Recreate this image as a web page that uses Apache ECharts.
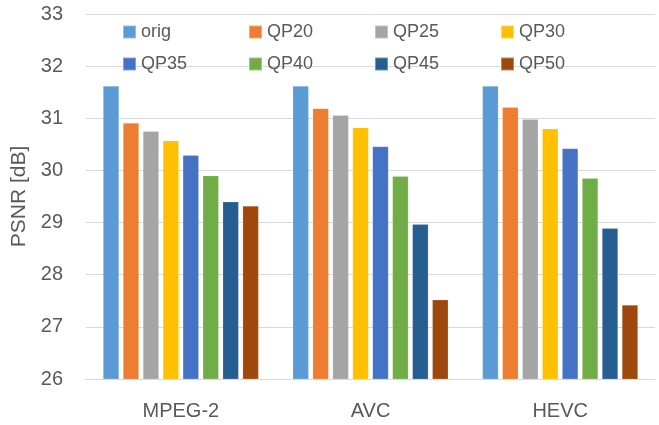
<!DOCTYPE html>
<html>
<head>
<meta charset="utf-8">
<script src="https://cdn.jsdelivr.net/npm/echarts@6/dist/echarts.min.js"></script>
<style>
  html, body { margin: 0; padding: 0; background: #fff; }
  #chart { width: 659px; height: 425px; }
</style>
</head>
<body>
<div id="chart"></div>
<script>
// Codecs on the x axis
const codecs = ['MPEG-2', 'AVC', 'HEVC'];

// PSNR [dB] per quantisation setting, one value per codec
const seriesNames = ['orig', 'QP20', 'QP25', 'QP30', 'QP35', 'QP40', 'QP45', 'QP50'];
const orig = [31.62, 31.62, 31.62];
const qp20 = [30.91, 31.19, 31.21];
const qp25 = [30.75, 31.06, 30.98];
const qp30 = [30.57, 30.82, 30.80];
const qp35 = [30.29, 30.46, 30.42];
const qp40 = [29.90, 29.89, 29.85];
const qp45 = [29.40, 28.97, 28.89];
const qp50 = [29.32, 27.52, 27.42];
const seriesValues = [orig, qp20, qp25, qp30, qp35, qp40, qp45, qp50];

// Y axis ticks
const yMin = 26, yMax = 33, yStep = 1;

const colors = ['#5B9BD5', '#ED7D31', '#A5A5A5', '#FFC000', '#4472C4', '#70AD47', '#255E91', '#9E480E'];
const font = '"Liberation Sans", Arial, sans-serif';
const textColor = '#595959';

// Legend laid out as a 4 x 2 grid inside the plot area
const legendCols = [122, 248, 374, 500];
const legendRows = [22, 54];
const legends = seriesNames.map((name, i) => ({
  data: [name],
  left: legendCols[i % 4],
  top: legendRows[Math.floor(i / 4)],
  itemWidth: 13,
  itemHeight: 13,
  itemGap: 0,
  padding: 0,
  icon: 'rect',
  textStyle: { fontFamily: font, fontSize: 18, lineHeight: 20, color: textColor },
  selectedMode: false
}));

const chart = echarts.init(document.getElementById('chart'), null, { renderer: 'canvas' });
chart.setOption({
  animation: false,
  color: colors,
  textStyle: { fontFamily: font },
  legend: legends,
  grid: { left: 86, right: 4, top: 14, bottom: 46, containLabel: false },
  xAxis: {
    type: 'category',
    data: codecs,
    axisLine: { show: true, lineStyle: { color: '#d9d9d9', width: 1 } },
    axisTick: { show: false },
    axisLabel: { fontFamily: font, fontSize: 20, color: textColor, margin: 22 }
  },
  yAxis: {
    type: 'value',
    min: yMin,
    max: yMax,
    interval: yStep,
    name: 'PSNR [dB]',
    nameLocation: 'middle',
    nameGap: 56,
    nameTextStyle: { fontFamily: font, fontSize: 21, color: textColor },
    axisLine: { show: false },
    axisTick: { show: false },
    axisLabel: { fontFamily: font, fontSize: 20, color: textColor, margin: 23 },
    splitLine: { show: true, lineStyle: { color: '#d9d9d9', width: 1 } }
  },
  series: seriesNames.map((name, i) => ({
    name: name,
    type: 'bar',
    data: seriesValues[i],
    barGap: '25%',
    barCategoryGap: '18%',
    itemStyle: { borderColor: 'rgba(255,255,255,0.35)', borderWidth: 0.5 }
  }))
});
</script>
</body>
</html>
